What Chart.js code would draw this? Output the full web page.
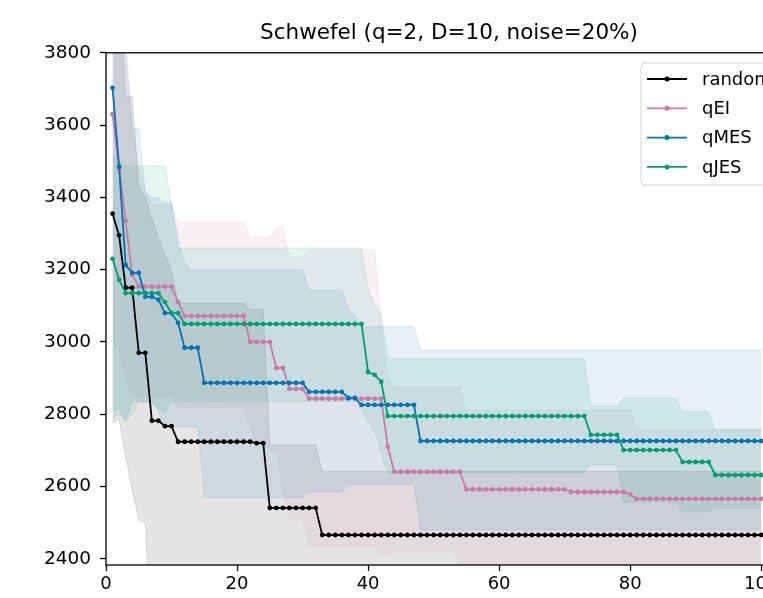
<!DOCTYPE html>
<html>
<head>
<meta charset="utf-8">
<script src="https://cdn.jsdelivr.net/npm/chart.js@4.4.1/dist/chart.umd.min.js"></script>
<style>
  html, body { margin: 0; padding: 0; background: #fff; overflow: hidden; }
  #wrap { width: 830px; height: 598px; }
</style>
</head>
<body>
<div id="wrap"><canvas id="schwefelChart" width="830" height="598"></canvas></div>
<script>
// iteration index 1..100
const iterations = Array.from({ length: 100 }, (_, i) => i + 1);

const seriesNames = ['random', 'qEI', 'qMES', 'qJES'];
const xTickValues = [0, 20, 40, 60, 80, 100];
const yTickValues = [2400, 2600, 2800, 3000, 3200, 3400, 3600, 3800];

// mean best value per iteration
const randomMean = [
  3355, 3295, 3150, 3150, 2970, 2970, 2782, 2782, 2767, 2767,
  2724, 2724, 2724, 2724, 2724, 2724, 2724, 2724, 2724, 2724,
  2724, 2724, 2720, 2720, 2541, 2541, 2541, 2541, 2541, 2541,
  2541, 2541, 2466, 2466, 2466, 2466, 2466, 2466, 2466, 2466,
  2466, 2466, 2466, 2466, 2466, 2466, 2466, 2466, 2466, 2466,
  2466, 2466, 2466, 2466, 2466, 2466, 2466, 2466, 2466, 2466,
  2466, 2466, 2466, 2466, 2466, 2466, 2466, 2466, 2466, 2466,
  2466, 2466, 2466, 2466, 2466, 2466, 2466, 2466, 2466, 2466,
  2466, 2466, 2466, 2466, 2466, 2466, 2466, 2466, 2466, 2466,
  2466, 2466, 2466, 2466, 2466, 2466, 2466, 2466, 2466, 2466
];
const randomUpper = [
  4200, 4000, 3680, 3680, 3430, 3400, 3340, 3290, 3240, 3200,
  3108, 3108, 3108, 3108, 3108, 3108, 3108, 3108, 3108, 3108,
  3108, 3090, 3090, 3090, 2715, 2715, 2715, 2715, 2715, 2715,
  2715, 2715, 2642, 2642, 2642, 2642, 2642, 2642, 2642, 2642,
  2642, 2642, 2642, 2642, 2642, 2642, 2642, 2642, 2642, 2642,
  2642, 2642, 2642, 2642, 2642, 2642, 2642, 2642, 2642, 2642,
  2642, 2642, 2642, 2642, 2642, 2642, 2642, 2642, 2642, 2642,
  2642, 2642, 2642, 2642, 2642, 2642, 2642, 2642, 2642, 2642,
  2642, 2642, 2642, 2642, 2642, 2642, 2642, 2642, 2642, 2642,
  2642, 2642, 2642, 2642, 2642, 2642, 2642, 2642, 2642, 2642
];
const randomLower = [
  2776, 2785, 2682, 2591, 2508, 2500, 2100, 2100, 2100, 2100,
  2100, 2100, 2100, 2100, 2100, 2100, 2100, 2100, 2100, 2100,
  2100, 2100, 2100, 2100, 2100, 2100, 2100, 2100, 2100, 2100,
  2100, 2100, 2100, 2100, 2100, 2100, 2100, 2100, 2100, 2100,
  2100, 2100, 2100, 2100, 2100, 2100, 2100, 2100, 2100, 2100,
  2100, 2100, 2100, 2100, 2100, 2100, 2100, 2100, 2100, 2100,
  2100, 2100, 2100, 2100, 2100, 2100, 2100, 2100, 2100, 2100,
  2100, 2100, 2100, 2100, 2100, 2100, 2100, 2100, 2100, 2100,
  2100, 2100, 2100, 2100, 2100, 2100, 2100, 2100, 2100, 2100,
  2100, 2100, 2100, 2100, 2100, 2100, 2100, 2100, 2100, 2100
];

const qeiMean = [
  3630, 3480, 3335, 3186, 3153, 3153, 3153, 3153, 3153, 3153,
  3110, 3072, 3072, 3072, 3072, 3072, 3072, 3072, 3072, 3072,
  3072, 3000, 3000, 3000, 3000, 2928, 2928, 2870, 2870, 2870,
  2843, 2843, 2843, 2843, 2843, 2843, 2843, 2843, 2843, 2843,
  2843, 2843, 2710, 2641, 2641, 2641, 2641, 2641, 2641, 2641,
  2641, 2641, 2641, 2641, 2592, 2592, 2592, 2592, 2592, 2592,
  2592, 2592, 2592, 2592, 2592, 2592, 2592, 2592, 2592, 2592,
  2585, 2585, 2585, 2585, 2585, 2585, 2585, 2585, 2585, 2578,
  2566, 2566, 2566, 2566, 2566, 2566, 2566, 2566, 2566, 2566,
  2566, 2566, 2566, 2566, 2566, 2566, 2566, 2566, 2566, 2566
];
const qeiUpper = [
  4400, 4100, 3850, 3600, 3480, 3420, 3380, 3380, 3380, 3380,
  3332, 3332, 3332, 3332, 3332, 3332, 3332, 3332, 3332, 3332,
  3332, 3290, 3290, 3290, 3290, 3316, 3316, 3236, 3236, 3236,
  3255, 3255, 3255, 3255, 3255, 3255, 3255, 3255, 3255, 3255,
  3255, 3050, 2900, 2876, 2876, 2876, 2876, 2876, 2876, 2876,
  2876, 2876, 2876, 2876, 2812, 2812, 2812, 2812, 2812, 2812,
  2812, 2812, 2812, 2812, 2812, 2812, 2812, 2812, 2812, 2812,
  2812, 2812, 2812, 2812, 2812, 2812, 2812, 2812, 2812, 2812,
  2757, 2757, 2757, 2757, 2757, 2757, 2757, 2757, 2757, 2757,
  2757, 2757, 2757, 2757, 2757, 2757, 2757, 2757, 2757, 2757
];
const qeiLower = [
  3000, 2980, 2900, 2850, 2850, 2850, 2850, 2850, 2850, 2850,
  2818, 2818, 2818, 2818, 2818, 2818, 2818, 2818, 2818, 2818,
  2818, 2760, 2720, 2720, 2700, 2700, 2580, 2508, 2508, 2508,
  2435, 2435, 2435, 2435, 2435, 2435, 2435, 2435, 2435, 2435,
  2435, 2410, 2410, 2420, 2420, 2420, 2420, 2420, 2420, 2420,
  2420, 2420, 2420, 2390, 2250, 2250, 2250, 2250, 2250, 2250,
  2250, 2250, 2250, 2250, 2250, 2250, 2250, 2250, 2250, 2250,
  2250, 2250, 2250, 2250, 2250, 2250, 2250, 2250, 2250, 2250,
  2250, 2250, 2250, 2250, 2250, 2250, 2250, 2250, 2250, 2250,
  2250, 2250, 2250, 2250, 2250, 2250, 2250, 2250, 2250, 2250
];

const qmesMean = [
  3703, 3485, 3213, 3191, 3191, 3125, 3125, 3117, 3080, 3080,
  3053, 2984, 2984, 2984, 2887, 2887, 2887, 2887, 2887, 2887,
  2887, 2887, 2887, 2887, 2887, 2887, 2887, 2887, 2887, 2887,
  2862, 2862, 2862, 2862, 2862, 2862, 2845, 2845, 2826, 2826,
  2826, 2826, 2826, 2826, 2826, 2826, 2826, 2726, 2726, 2726,
  2726, 2726, 2726, 2726, 2726, 2726, 2726, 2726, 2726, 2726,
  2726, 2726, 2726, 2726, 2726, 2726, 2726, 2726, 2726, 2726,
  2726, 2726, 2726, 2726, 2726, 2726, 2726, 2726, 2726, 2726,
  2726, 2726, 2726, 2726, 2726, 2726, 2726, 2726, 2726, 2726,
  2726, 2726, 2726, 2726, 2726, 2726, 2726, 2726, 2726, 2726
];
const qmesUpper = [
  4500, 4200, 3800, 3592, 3592, 3415, 3400, 3400, 3385, 3385,
  3290, 3220, 3200, 3200, 3200, 3200, 3200, 3200, 3200, 3200,
  3200, 3200, 3200, 3200, 3200, 3200, 3200, 3200, 3200, 3200,
  3144, 3144, 3144, 3144, 3144, 3144, 3089, 3075, 3042, 3042,
  3042, 3042, 3042, 3042, 3042, 3042, 3042, 2978, 2978, 2978,
  2978, 2978, 2978, 2978, 2978, 2978, 2978, 2978, 2978, 2978,
  2978, 2978, 2978, 2978, 2978, 2978, 2978, 2978, 2978, 2978,
  2978, 2978, 2978, 2978, 2978, 2978, 2978, 2978, 2978, 2978,
  2978, 2978, 2978, 2978, 2978, 2978, 2978, 2978, 2978, 2978,
  2978, 2978, 2978, 2978, 2978, 2978, 2978, 2978, 2978, 2978
];
const qmesLower = [
  2790, 2800, 2780, 2834, 2834, 2834, 2834, 2810, 2765, 2765,
  2765, 2765, 2765, 2765, 2569, 2569, 2569, 2569, 2569, 2569,
  2569, 2569, 2569, 2569, 2569, 2569, 2569, 2569, 2569, 2569,
  2585, 2585, 2585, 2585, 2585, 2585, 2605, 2605, 2605, 2605,
  2605, 2605, 2605, 2605, 2605, 2605, 2605, 2480, 2480, 2480,
  2480, 2480, 2480, 2480, 2480, 2480, 2480, 2480, 2480, 2480,
  2480, 2480, 2480, 2480, 2480, 2480, 2480, 2480, 2480, 2480,
  2480, 2480, 2480, 2480, 2480, 2480, 2480, 2480, 2480, 2480,
  2480, 2480, 2480, 2480, 2480, 2480, 2480, 2480, 2480, 2480,
  2480, 2480, 2480, 2480, 2480, 2480, 2480, 2480, 2480, 2480
];

const qjesMean = [
  3230, 3172, 3135, 3135, 3135, 3135, 3135, 3135, 3110, 3080,
  3080, 3050, 3050, 3050, 3050, 3050, 3050, 3050, 3050, 3050,
  3050, 3050, 3050, 3050, 3050, 3050, 3050, 3050, 3050, 3050,
  3050, 3050, 3050, 3050, 3050, 3050, 3050, 3050, 3050, 2917,
  2909, 2890, 2795, 2795, 2795, 2795, 2795, 2795, 2795, 2795,
  2795, 2795, 2795, 2795, 2795, 2795, 2795, 2795, 2795, 2795,
  2795, 2795, 2795, 2795, 2795, 2795, 2795, 2795, 2795, 2795,
  2795, 2795, 2795, 2743, 2743, 2743, 2743, 2743, 2701, 2701,
  2701, 2701, 2701, 2701, 2701, 2701, 2701, 2668, 2668, 2668,
  2668, 2668, 2632, 2632, 2632, 2632, 2632, 2632, 2632, 2632
];
const qjesUpper = [
  3523, 3500, 3487, 3487, 3487, 3487, 3487, 3487, 3487, 3380,
  3260, 3260, 3260, 3260, 3260, 3260, 3260, 3260, 3260, 3260,
  3260, 3260, 3260, 3260, 3260, 3260, 3260, 3260, 3260, 3260,
  3260, 3260, 3260, 3260, 3260, 3260, 3260, 3260, 3260, 3150,
  3100, 3075, 2960, 2953, 2953, 2953, 2953, 2953, 2953, 2953,
  2953, 2953, 2953, 2953, 2953, 2953, 2953, 2953, 2953, 2953,
  2953, 2953, 2953, 2953, 2953, 2953, 2953, 2953, 2953, 2953,
  2953, 2953, 2953, 2823, 2823, 2823, 2823, 2823, 2845, 2845,
  2845, 2845, 2845, 2845, 2845, 2845, 2845, 2807, 2807, 2807,
  2807, 2807, 2757, 2757, 2757, 2757, 2757, 2757, 2757, 2757
];
const qjesLower = [
  2806, 2818, 2780, 2800, 2834, 2834, 2834, 2815, 2803, 2835,
  2835, 2835, 2835, 2835, 2835, 2835, 2835, 2835, 2835, 2835,
  2835, 2835, 2835, 2835, 2835, 2835, 2835, 2835, 2835, 2835,
  2835, 2835, 2835, 2835, 2835, 2835, 2835, 2835, 2812, 2780,
  2750, 2690, 2638, 2638, 2638, 2638, 2638, 2638, 2638, 2638,
  2638, 2638, 2638, 2638, 2638, 2638, 2638, 2638, 2638, 2638,
  2638, 2638, 2638, 2638, 2638, 2638, 2638, 2638, 2638, 2638,
  2638, 2638, 2638, 2660, 2660, 2660, 2660, 2660, 2557, 2557,
  2557, 2557, 2557, 2557, 2557, 2557, 2557, 2530, 2530, 2530,
  2530, 2530, 2540, 2540, 2540, 2540, 2540, 2540, 2540, 2540
];

const seriesColors = ['0, 0, 0', '204, 121, 167', '0, 114, 178', '0, 158, 115'];
const means = [randomMean, qeiMean, qmesMean, qjesMean];
const uppers = [randomUpper, qeiUpper, qmesUpper, qjesUpper];
const lowers = [randomLower, qeiLower, qmesLower, qjesLower];

const toPoints = (vals) => vals.map((v, i) => ({ x: iterations[i], y: v }));

const datasets = [];
// mean lines first; later series drawn on top via order
seriesNames.forEach((name, k) => {
    datasets.push({
        label: name,
        data: toPoints(means[k]),
        borderColor: `rgb(${seriesColors[k]})`,
        backgroundColor: `rgb(${seriesColors[k]})`,
        borderWidth: 1.8,
        pointRadius: 2.4,
        pointBorderWidth: 0,
        tension: 0,
        fill: false,
        order: 4 - k
    });
});
// shaded bands: upper fills down to the lower dataset right after it
seriesNames.forEach((name, k) => {
    datasets.push({
        label: name + ' upper',
        data: toPoints(uppers[k]),
        borderColor: `rgba(${seriesColors[k]}, 0.12)`,
        backgroundColor: `rgba(${seriesColors[k]}, 0.1)`,
        borderWidth: 1,
        pointRadius: 0,
        tension: 0,
        fill: '+1',
        order: 20 - k * 2
    });
    datasets.push({
        label: name + ' lower',
        data: toPoints(lowers[k]),
        borderColor: `rgba(${seriesColors[k]}, 0.12)`,
        borderWidth: 1,
        pointRadius: 0,
        tension: 0,
        fill: false,
        order: 19 - k * 2
    });
});

const frameAndLegend = {
    id: 'frameAndLegend',
    afterDatasetsDraw(chart) {
        const { ctx, chartArea: a } = chart;
        ctx.save();
        ctx.strokeStyle = '#000';
        ctx.lineWidth = 1.3;
        ctx.strokeRect(a.left, a.top, a.right - a.left, a.bottom - a.top);

        // legend box, top right like matplotlib
        const bx = 641, by = 63, bw = 143, bh = 122, r = 4;
        ctx.beginPath();
        ctx.roundRect(bx, by, bw, bh, r);
        ctx.fillStyle = 'rgba(255,255,255,0.8)';
        ctx.fill();
        ctx.strokeStyle = 'rgba(204,204,204,0.8)';
        ctx.lineWidth = 1;
        ctx.stroke();

        ctx.font = '18px "DejaVu Sans"';
        ctx.textBaseline = 'middle';
        seriesNames.forEach((name, k) => {
            const y = 79 + k * 29.3;
            ctx.strokeStyle = `rgb(${seriesColors[k]})`;
            ctx.fillStyle = `rgb(${seriesColors[k]})`;
            ctx.lineWidth = 1.8;
            ctx.beginPath();
            ctx.moveTo(647, y);
            ctx.lineTo(687, y);
            ctx.stroke();
            ctx.beginPath();
            ctx.arc(667, y, 2.5, 0, Math.PI * 2);
            ctx.fill();
            ctx.fillStyle = '#000';
            ctx.fillText(name, 702, y + 1);
        });
        ctx.restore();
    }
};

const ctx = document.getElementById('schwefelChart').getContext('2d');
new Chart(ctx, {
    type: 'line',
    data: { datasets: datasets },
    options: {
        responsive: false,
        animation: false,
        layout: { padding: { left: 0, right: 38, top: 0, bottom: 0 } },
        plugins: {
            legend: { display: false },
            tooltip: { enabled: false },
            title: {
                display: true,
                text: 'Schwefel (q=2, D=10, noise=20%)',
                color: '#000',
                fullSize: false,
                font: { family: 'DejaVu Sans', size: 21.5, weight: 'normal' },
                padding: { top: 21, bottom: 6 }
            }
        },
        scales: {
            x: {
                type: 'linear',
                min: 0,
                max: 104.7,
                afterFit: (s) => { s.height = 33; },
                afterBuildTicks: (s) => { s.ticks = xTickValues.map(v => ({ value: v })); },
                grid: { display: true, drawOnChartArea: false, drawTicks: true, tickLength: 6, tickColor: '#000', tickWidth: 1.3 },
                border: { display: false },
                ticks: {
                    color: '#000',
                    padding: 3,
                    maxRotation: 0,
                    callback: (v) => String(v),
                    font: { family: 'DejaVu Sans', size: 18 }
                }
            },
            y: {
                min: 2383,
                max: 3800,
                afterFit: (s) => { s.width = 106; },
                afterBuildTicks: (s) => { s.ticks = yTickValues.map(v => ({ value: v })); },
                grid: { display: true, drawOnChartArea: false, drawTicks: true, tickLength: 6, tickColor: '#000', tickWidth: 1.3 },
                border: { display: false },
                ticks: {
                    color: '#000',
                    padding: 9,
                    callback: (v) => String(v),
                    font: { family: 'DejaVu Sans', size: 18.5 }
                }
            }
        }
    },
    plugins: [frameAndLegend]
});
</script>
</body>
</html>
